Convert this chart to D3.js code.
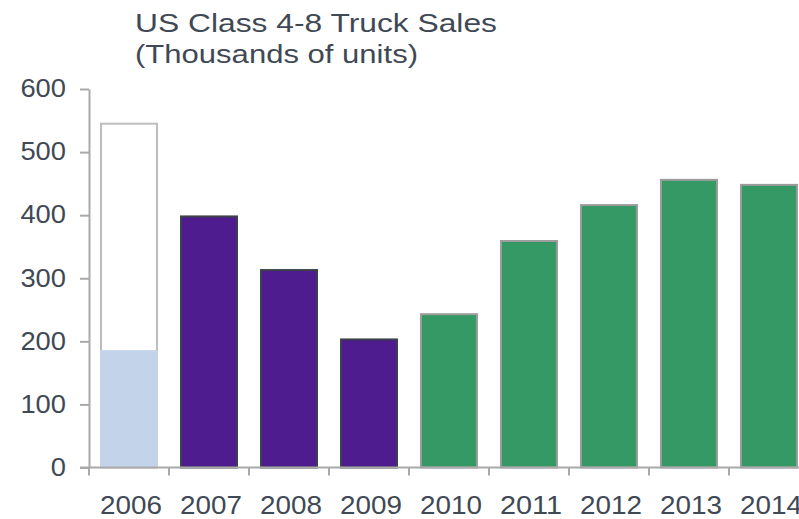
<!DOCTYPE html>
<html>
<head>
<meta charset="utf-8">
<script src="https://cdn.jsdelivr.net/npm/d3@7"></script>
<style>
  body { margin: 0; background: #fff; }
  svg text { font-family: "Liberation Sans", Arial, sans-serif; fill: #3f4955; }
</style>
</head>
<body>
<div id="svganchor"></div>
<script>
// data
const years = ["2006", "2007", "2008", "2009", "2010", "2011", "2012", "2013", "2014"];
const sales = [545, 398, 313, 203, 243, 359, 416, 456, 448];
const groups = ["base", "down", "down", "down", "up", "up", "up", "up", "up"];
const base2006Part = 186; // shaded part of the 2006 bar
const yTicks = [0, 100, 200, 300, 400, 500, 600];
const titleLines = ["US Class 4-8 Truck Sales", "(Thousands of units)"];

const width = 799;
const height = 519;

const fills = { base: "#fff", down: "#4e1c8e", up: "#349964" };
const strokes = { base: "#bdbdbd", down: "#3c424c", up: "#9c9c9c" };

const svg = d3.select("#svganchor")
  .append("svg")
  .attr("width", width)
  .attr("height", height);

const x = d3.scaleBand()
  .domain(years)
  .range([89, 809])
  .paddingInner(0.3)
  .paddingOuter(0.15);

const y = d3.scaleLinear()
  .domain([0, 600])
  .range([467.5, 89]);

// title, two lines
svg.append("g")
  .selectAll("text")
  .data(titleLines)
  .join("text")
  .attr("x", 135)
  .attr("y", (d, i) => 32 + i * 30.5)
  .attr("textLength", (d, i) => i === 0 ? 362 : 283)
  .attr("lengthAdjust", "spacingAndGlyphs")
  .style("font-size", "26px")
  .text(d => d);

// bars
const bars = svg.append("g");

bars.selectAll("rect.bar")
  .data(years)
  .join("rect")
  .attr("class", "bar")
  .attr("x", d => x(d))
  .attr("width", x.bandwidth())
  .attr("y", (d, i) => y(sales[i]))
  .attr("height", (d, i) => y(0) - y(sales[i]))
  .attr("fill", (d, i) => fills[groups[i]])
  .attr("stroke", (d, i) => strokes[groups[i]])
  .attr("stroke-width", 2);

// light part of the 2006 bar
bars.append("rect")
  .attr("x", x("2006") - 1)
  .attr("width", x.bandwidth() + 2)
  .attr("y", y(base2006Part))
  .attr("height", y(0) - y(base2006Part))
  .attr("fill", "#c3d3ea");

// y axis
const yAxis = svg.append("g")
  .attr("transform", "translate(89,0)")
  .call(d3.axisLeft(y).tickValues(yTicks).tickSize(9).tickSizeOuter(0).tickPadding(0));

yAxis.select(".domain").attr("stroke", "#a9a9a9").attr("stroke-width", 2);
yAxis.selectAll(".tick line").attr("stroke", "#a9a9a9").attr("stroke-width", 2);
yAxis.selectAll(".tick text")
  .attr("x", -23)
  .attr("dy", "0.3em")
  .attr("textLength", d => String(d).length * 15.2)
  .attr("lengthAdjust", "spacingAndGlyphs")
  .style("font-size", "26px");

// x axis
const xAxis = svg.append("g")
  .attr("transform", `translate(0,${y(0)})`);

xAxis.append("line")
  .attr("x1", 80)
  .attr("x2", width)
  .attr("stroke", "#a9a9a9")
  .attr("stroke-width", 2);

// tick marks at the category boundaries
xAxis.selectAll("line.tick")
  .data(years)
  .join("line")
  .attr("class", "tick")
  .attr("x1", d => x(d) - x.step() * x.paddingOuter())
  .attr("x2", d => x(d) - x.step() * x.paddingOuter())
  .attr("y1", 0)
  .attr("y2", 8)
  .attr("stroke", "#a9a9a9")
  .attr("stroke-width", 2);

xAxis.selectAll("text")
  .data(years)
  .join("text")
  .attr("x", d => x(d) + x.bandwidth() / 2 + 2)
  .attr("y", 46)
  .attr("text-anchor", "middle")
  .attr("textLength", 62)
  .attr("lengthAdjust", "spacingAndGlyphs")
  .style("font-size", "25px")
  .text(d => d);
</script>
</body>
</html>
